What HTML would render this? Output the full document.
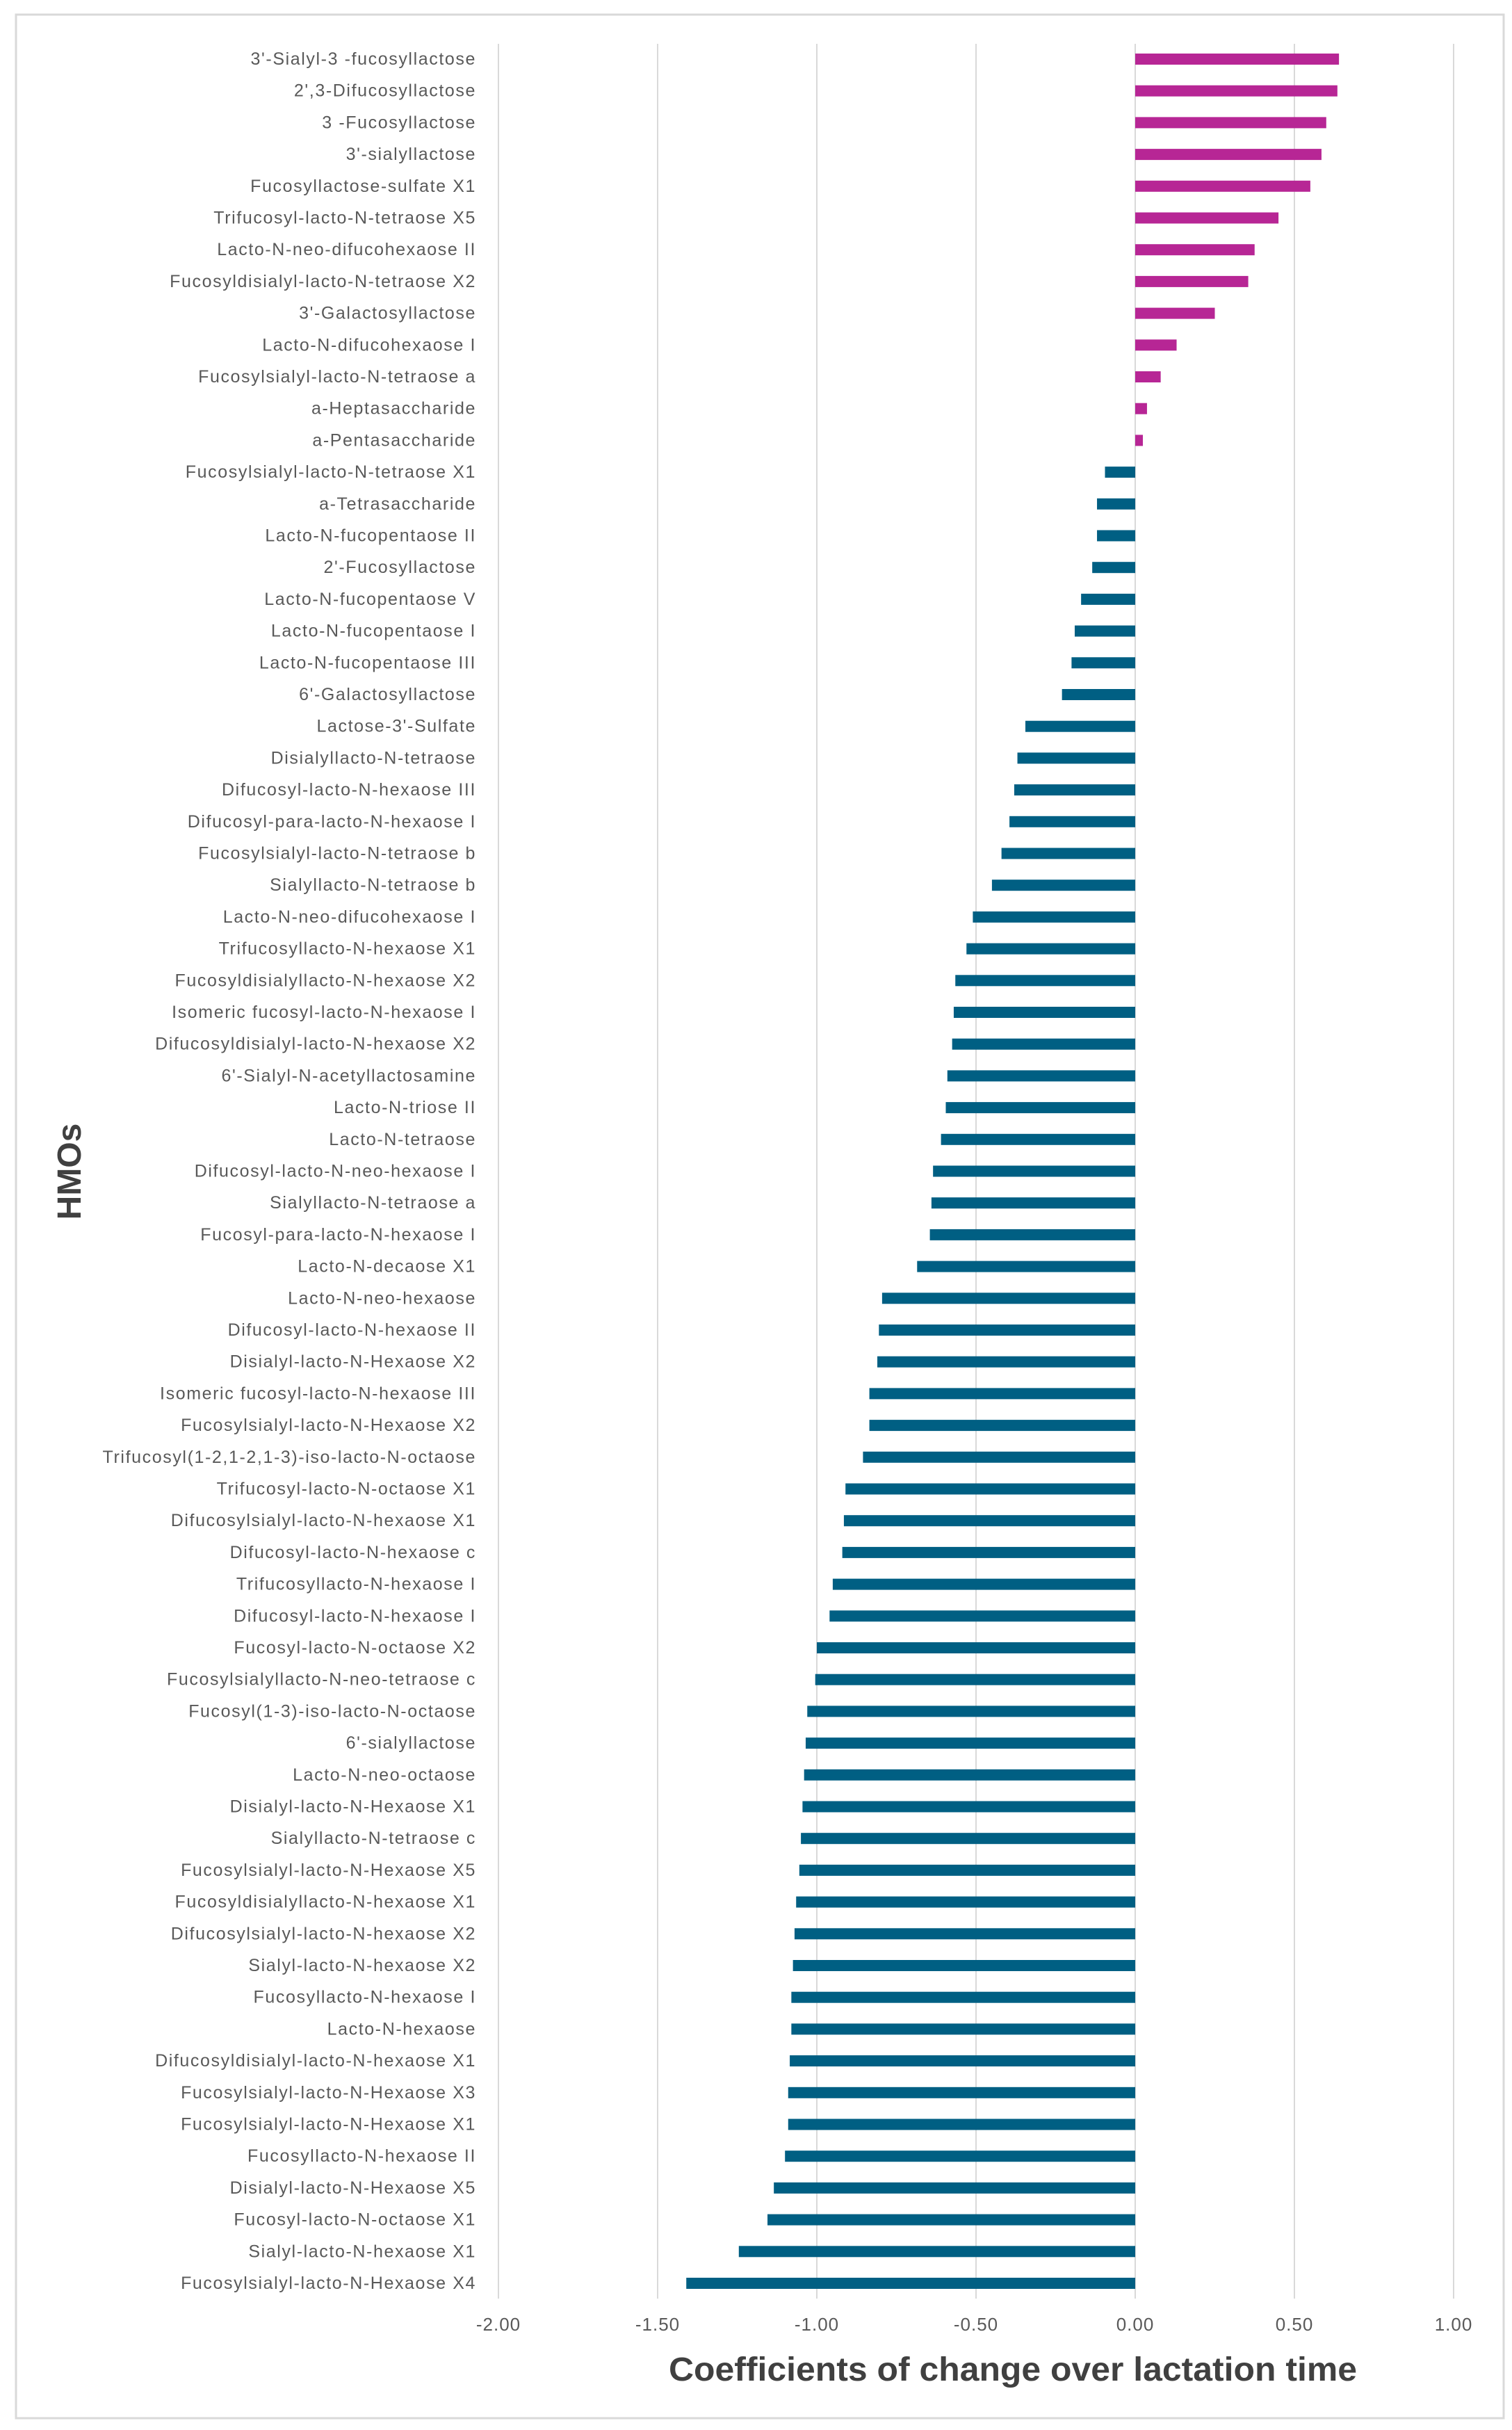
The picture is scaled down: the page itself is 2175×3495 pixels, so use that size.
<!DOCTYPE html>
<html><head><meta charset="utf-8"><style>
html,body{margin:0;padding:0;background:#fff;}
svg{display:block;font-family:"Liberation Sans",sans-serif;}
</style></head><body>
<svg id="chart" width="2175" height="3495" viewBox="0 0 2175 3495" xmlns="http://www.w3.org/2000/svg">
<rect x="23" y="21" width="2140" height="3457" fill="#fff" stroke="#d9d9d9" stroke-width="3"/>
<g id="grid"></g><g id="bars"></g><g id="labels"></g><g id="ticks"></g>
<text transform="translate(116,1685) rotate(-90)" text-anchor="middle" font-size="48" font-weight="bold" fill="#404040">HMOs</text>
<text x="1457" y="3424" text-anchor="middle" font-size="48" font-weight="bold" fill="#404040" textLength="990" lengthAdjust="spacingAndGlyphs">Coefficients of change over lactation time</text>
</svg>
<script>
const categories = ["3'-Sialyl-3 -fucosyllactose","2',3-Difucosyllactose","3 -Fucosyllactose","3'-sialyllactose","Fucosyllactose-sulfate X1","Trifucosyl-lacto-N-tetraose X5","Lacto-N-neo-difucohexaose II","Fucosyldisialyl-lacto-N-tetraose X2","3'-Galactosyllactose","Lacto-N-difucohexaose I","Fucosylsialyl-lacto-N-tetraose a","a-Heptasaccharide","a-Pentasaccharide","Fucosylsialyl-lacto-N-tetraose X1","a-Tetrasaccharide","Lacto-N-fucopentaose II","2'-Fucosyllactose","Lacto-N-fucopentaose V","Lacto-N-fucopentaose I","Lacto-N-fucopentaose III","6'-Galactosyllactose","Lactose-3'-Sulfate","Disialyllacto-N-tetraose","Difucosyl-lacto-N-hexaose III","Difucosyl-para-lacto-N-hexaose I","Fucosylsialyl-lacto-N-tetraose b","Sialyllacto-N-tetraose b","Lacto-N-neo-difucohexaose I","Trifucosyllacto-N-hexaose X1","Fucosyldisialyllacto-N-hexaose X2","Isomeric fucosyl-lacto-N-hexaose I","Difucosyldisialyl-lacto-N-hexaose X2","6'-Sialyl-N-acetyllactosamine","Lacto-N-triose II","Lacto-N-tetraose","Difucosyl-lacto-N-neo-hexaose I","Sialyllacto-N-tetraose a","Fucosyl-para-lacto-N-hexaose I","Lacto-N-decaose X1","Lacto-N-neo-hexaose","Difucosyl-lacto-N-hexaose II","Disialyl-lacto-N-Hexaose X2","Isomeric fucosyl-lacto-N-hexaose III","Fucosylsialyl-lacto-N-Hexaose X2","Trifucosyl(1-2,1-2,1-3)-iso-lacto-N-octaose","Trifucosyl-lacto-N-octaose X1","Difucosylsialyl-lacto-N-hexaose X1","Difucosyl-lacto-N-hexaose c","Trifucosyllacto-N-hexaose I","Difucosyl-lacto-N-hexaose I","Fucosyl-lacto-N-octaose X2","Fucosylsialyllacto-N-neo-tetraose c","Fucosyl(1-3)-iso-lacto-N-octaose","6'-sialyllactose","Lacto-N-neo-octaose","Disialyl-lacto-N-Hexaose X1","Sialyllacto-N-tetraose c","Fucosylsialyl-lacto-N-Hexaose X5","Fucosyldisialyllacto-N-hexaose X1","Difucosylsialyl-lacto-N-hexaose X2","Sialyl-lacto-N-hexaose X2","Fucosyllacto-N-hexaose I","Lacto-N-hexaose","Difucosyldisialyl-lacto-N-hexaose X1","Fucosylsialyl-lacto-N-Hexaose X3","Fucosylsialyl-lacto-N-Hexaose X1","Fucosyllacto-N-hexaose II","Disialyl-lacto-N-Hexaose X5","Fucosyl-lacto-N-octaose X1","Sialyl-lacto-N-hexaose X1","Fucosylsialyl-lacto-N-Hexaose X4"];
const values = [0.64,0.635,0.60,0.585,0.55,0.45,0.375,0.355,0.25,0.13,0.08,0.037,0.024,-0.095,-0.12,-0.12,-0.135,-0.17,-0.19,-0.20,-0.23,-0.345,-0.37,-0.38,-0.395,-0.42,-0.45,-0.51,-0.53,-0.565,-0.57,-0.575,-0.59,-0.595,-0.61,-0.635,-0.64,-0.645,-0.685,-0.795,-0.805,-0.81,-0.835,-0.835,-0.855,-0.91,-0.915,-0.92,-0.95,-0.96,-1.00,-1.005,-1.03,-1.035,-1.04,-1.045,-1.05,-1.055,-1.065,-1.07,-1.075,-1.08,-1.08,-1.085,-1.09,-1.09,-1.10,-1.135,-1.155,-1.245,-1.41];
const tickValues = [-2,-1.5,-1,-0.5,0,0.5,1];
const tickLabels = ["-2.00","-1.50","-1.00","-0.50","0.00","0.50","1.00"];

const NS="http://www.w3.org/2000/svg";
const xMin=-2, xMax=1, x0=717, x1=2091;
const yTop=63, yBot=3306, firstC=85, step=(3284-85)/70;
function xs(v){return x0+(v-xMin)/(xMax-xMin)*(x1-x0);}
function yc(i){return firstC+i*step;}
function mk(tag,attrs,parent){const e=document.createElementNS(NS,tag);for(const k in attrs)e.setAttribute(k,attrs[k]);parent.appendChild(e);return e;}
const grid=document.getElementById('grid'),bars=document.getElementById('bars'),labels=document.getElementById('labels'),ticks=document.getElementById('ticks');
tickValues.forEach((t,i)=>{
  const l=mk('line',{x1:xs(t),x2:xs(t),y1:yTop,y2:yBot,stroke:'#d9d9d9','stroke-width':2},grid);
  
  
  const tx=mk('text',{x:xs(t),y:3352,'text-anchor':'middle','font-size':26,fill:'#595959','letter-spacing':1},ticks);
  tx.textContent=tickLabels[i];
  
  
});
categories.forEach((c,i)=>{
  const v=values[i];
  const xa=xs(Math.min(0,v)), xb=xs(Math.max(0,v));
  const r=mk('rect',{x:xa,y:yc(i)-8,width:Math.max(1,xb-xa),height:16,fill:v>=0?'#b72695':'#005f83'},bars);
  
  
  const t=mk('text',{x:685,y:yc(i)+8,'text-anchor':'end','font-size':25,fill:'#595959','letter-spacing':1.6},labels);
  t.textContent=c;
  
  
});
</script>
</body></html>
